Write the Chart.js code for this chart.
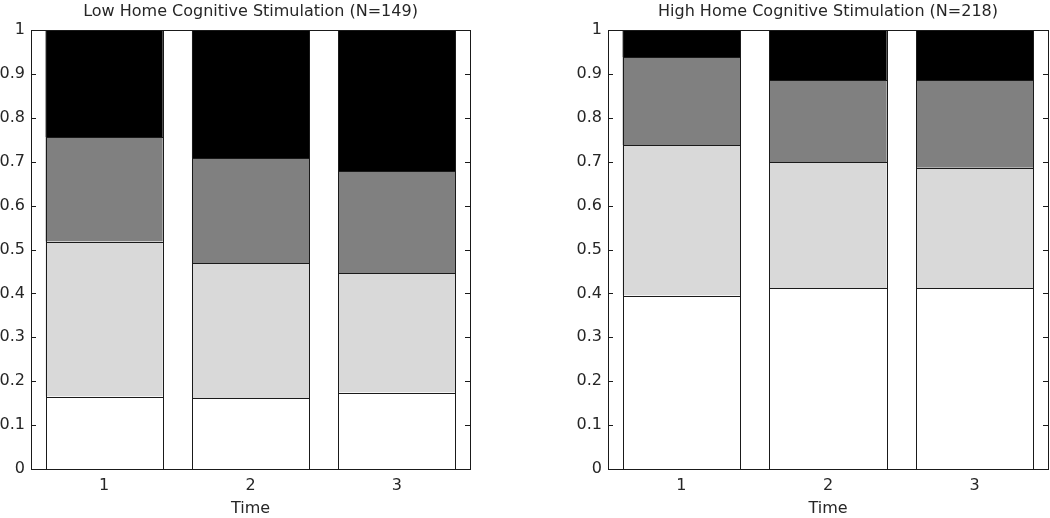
<!DOCTYPE html>
<html>
<head>
<meta charset="utf-8">
<script src="https://cdn.jsdelivr.net/npm/chart.js@4"></script>
<style>
body { margin: 0; background: #fff; width: 1050px; height: 518px; position: relative; overflow: hidden; }
.panel { position: absolute; top: 0; width: 480px; height: 518px; }
</style>
</head>
<body>
<div class="panel" style="left:0"><canvas id="lowChart"></canvas></div>
<div class="panel" style="left:577px"><canvas id="highChart"></canvas></div>
<script>
const times = ['1', '2', '3'];
const yTickLabels = ['0', '0.1', '0.2', '0.3', '0.4', '0.5', '0.6', '0.7', '0.8', '0.9', '1'];

// Low home cognitive stimulation (N=149), stacked proportions bottom -> top
const lowWhite = [0.165, 0.161, 0.174];
const lowLight = [0.353, 0.308, 0.272];
const lowDark  = [0.238, 0.239, 0.233];
const lowBlack = [0.244, 0.292, 0.321];

// High home cognitive stimulation (N=218)
const highWhite = [0.395, 0.412, 0.412];
const highLight = [0.343, 0.287, 0.274];
const highDark  = [0.200, 0.187, 0.200];
const highBlack = [0.062, 0.114, 0.114];

const fillColors = ['#ffffff', '#d9d9d9', '#808080', '#000000'];
const FONT = '"DejaVu Sans", sans-serif';
const TEXT = '#262626';
const LINE = '#1a1a1a';

Chart.defaults.font.family = FONT;
Chart.defaults.font.size = 16;
Chart.defaults.color = TEXT;

const px = v => Math.round(v) + 0.5;

// crisp bar outlines, axes box, inward y ticks, title and x label
const matlabAxes = {
    id: 'matlabAxes',
    afterDatasetsDraw(chart) {
        const ctx = chart.ctx;
        ctx.save();
        ctx.strokeStyle = LINE;
        ctx.lineWidth = 1;
        chart.data.datasets.forEach((ds, i) => {
            chart.getDatasetMeta(i).data.forEach(bar => {
                const { x, y, base, width } = bar.getProps(['x', 'y', 'base', 'width'], true);
                const l = px(x - width / 2), r = px(x + width / 2);
                const t = px(y), b = px(base);
                ctx.strokeRect(l, t, r - l, b - t);
            });
        });
        ctx.restore();
    },
    afterDraw(chart, args, opts) {
        const { ctx, chartArea: a, scales } = chart;
        ctx.save();
        ctx.strokeStyle = LINE;
        ctx.lineWidth = 1;
        ctx.strokeRect(px(a.left), px(a.top), Math.round(a.right - a.left), Math.round(a.bottom - a.top));
        ctx.beginPath();
        scales.y.ticks.forEach(t => {
            const y = px(scales.y.getPixelForValue(t.value));
            ctx.moveTo(a.left, y); ctx.lineTo(a.left + 5, y);
            ctx.moveTo(a.right, y); ctx.lineTo(a.right - 5, y);
        });
        ctx.stroke();
        ctx.fillStyle = TEXT;
        ctx.font = '16px ' + FONT;
        ctx.textAlign = 'center';
        ctx.textBaseline = 'middle';
        const cx = (a.left + a.right) / 2;
        ctx.fillText(opts.title, cx, 12);
        ctx.fillText('Time', cx, 509);
        ctx.restore();
    }
};

function makeChart(id, title, white, light, dark, black, padRight) {
    const series = [white, light, dark, black];
    new Chart(document.getElementById(id), {
        type: 'bar',
        data: {
            labels: times,
            datasets: series.map((d, i) => ({
                data: d,
                backgroundColor: fillColors[i],
                borderWidth: 0,
                categoryPercentage: 1,
                barPercentage: 0.8
            }))
        },
        options: {
            responsive: true,
            maintainAspectRatio: false,
            animation: false,
            events: [],
            layout: { padding: { top: 30, right: padRight, left: 0, bottom: 0 } },
            plugins: {
                legend: { display: false },
                tooltip: { enabled: false },
                matlabAxes: { title: title }
            },
            scales: {
                x: {
                    stacked: true,
                    grid: { display: false, drawTicks: false },
                    border: { display: false },
                    ticks: { padding: 7, color: TEXT },
                    afterFit: s => { s.height = 49; }
                },
                y: {
                    stacked: true,
                    min: 0,
                    max: 1,
                    grid: { display: false, drawTicks: false },
                    border: { display: false },
                    ticks: {
                        stepSize: 0.1,
                        padding: 6,
                        color: TEXT,
                        callback: (v, i) => yTickLabels[i]
                    },
                    afterFit: s => { s.width = 31; }
                }
            }
        },
        plugins: [matlabAxes]
    });
}

makeChart('lowChart', 'Low Home Cognitive Stimulation (N=149)', lowWhite, lowLight, lowDark, lowBlack, 10);
makeChart('highChart', 'High Home Cognitive Stimulation (N=218)', highWhite, highLight, highDark, highBlack, 9);
</script>
</body>
</html>
